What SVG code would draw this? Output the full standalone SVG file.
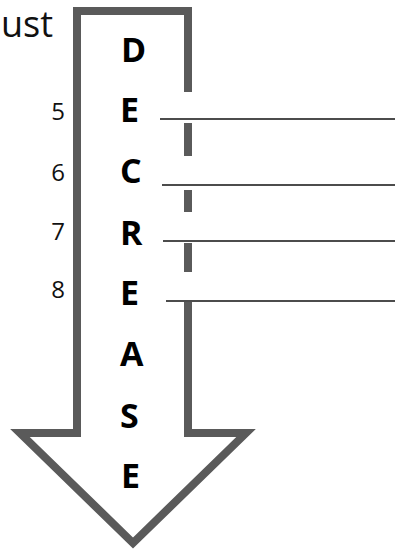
<svg xmlns="http://www.w3.org/2000/svg" width="395" height="554" viewBox="0 0 395 554">
<style>
.arrow{fill:none;stroke:#5a5a5a;stroke-width:8;stroke-linejoin:miter;stroke-miterlimit:10}
.dash{fill:#5a5a5a}
.let{font-family:"Open Sans","Liberation Sans",sans-serif;font-weight:bold;font-size:34px;fill:#000}
.num{font-family:"Open Sans","Liberation Sans",sans-serif;font-size:24px;fill:#111;text-anchor:end}
.line{stroke:#111;stroke-width:1.5}
</style>
<rect width="395" height="554" fill="#fff"/>
<g id="title"><text x="1" y="37" font-family="Open Sans, Liberation Sans, sans-serif" font-size="36" fill="#111">ust</text></g>
<g id="arrow">
<path class="arrow" d="M188,302 V433 H246 L133,543 L20,433 H77 V11 H188 V92"/>
<rect class="dash" x="184" y="123" width="8" height="33"/>
<rect class="dash" x="184" y="190" width="8" height="22"/>
<rect class="dash" x="184" y="243" width="8" height="29"/>
</g>
<g id="letters">
<text class="let" x="121" y="62">D</text>
<text class="let" x="120" y="122">E</text>
<text class="let" x="120" y="183">C</text>
<text class="let" x="120" y="245">R</text>
<text class="let" x="120" y="305">E</text>
<text class="let" x="120" y="366">A</text>
<text class="let" x="120" y="428">S</text>
<text class="let" x="121" y="488">E</text>
</g>
<g id="numbers">
<text class="num" x="65" y="120">5</text>
<text class="num" x="65" y="181">6</text>
<text class="num" x="65" y="240">7</text>
<text class="num" x="65" y="298">8</text>
</g>
<g id="connectors">
<line class="line" x1="160" y1="119" x2="395" y2="119"/>
<line class="line" x1="162" y1="185" x2="395" y2="185"/>
<line class="line" x1="163" y1="241" x2="395" y2="241"/>
<line class="line" x1="166" y1="301" x2="395" y2="301"/>
</g>
</svg>
